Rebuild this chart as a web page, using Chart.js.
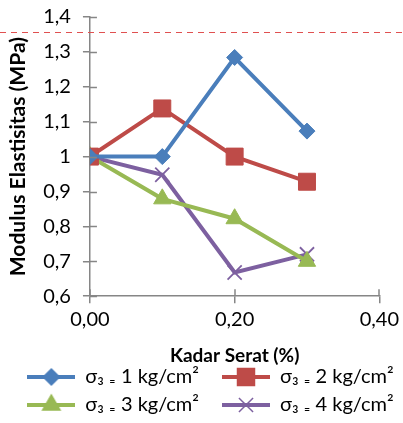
<!DOCTYPE html>
<html>
<head>
<meta charset="utf-8">
<script src="https://cdn.jsdelivr.net/npm/chart.js@4.4.0/dist/chart.umd.min.js"></script>
<style>
  html, body { margin: 0; padding: 0; background: #fff; }
  #frame { width: 403px; height: 423px; position: relative; overflow: hidden; }
  #wrap { width: 403px; height: 432px; position: absolute; left: 0; top: -7px; }
</style>
</head>
<body>
<div id="frame"><div id="wrap"><canvas id="modulusChart"></canvas></div></div>
<script>
const kadarSerat = [0, 0.1, 0.2, 0.3];
const sigma1 = [1.0, 1.0, 1.284, 1.073];
const sigma2 = [1.0, 1.138, 1.0, 0.928];
const sigma3 = [1.0, 0.879, 0.822, 0.70];
const sigma4 = [1.0, 0.948, 0.668, 0.72];
const seriesLabels = ['σ₃ ₌ 1 kg/cm²', 'σ₃ ₌ 2 kg/cm²', 'σ₃ ₌ 3 kg/cm²', 'σ₃ ₌ 4 kg/cm²'];

const fontFace = 'Lato, "Open Sans", sans-serif';
const axisGrey = '#868686';

const toPoints = (vals) => vals.map((v, i) => ({ x: kadarSerat[i], y: v }));

// small picture of line + marker for the legend
const legendIcon = (color, style, r) => {
    const c = document.createElement('canvas');
    c.width = 48; c.height = 24;
    const g = c.getContext('2d');
    g.strokeStyle = color;
    g.lineWidth = 4;
    g.beginPath(); g.moveTo(0, 12); g.lineTo(48, 12); g.stroke();
    g.fillStyle = color;
    g.lineWidth = 1.5;
    g.beginPath();
    Chart.helpers.drawPoint(g, { pointStyle: style, radius: r, borderWidth: 1.5, rotation: 0 }, 24, 12);
    g.fill();
    return c;
};

const makeSet = (label, vals, color, style, r) => ({
    label: label,
    data: toPoints(vals),
    borderColor: color,
    backgroundColor: color,
    borderWidth: 4,
    pointStyle: style,
    pointRadius: r,
    pointHoverRadius: r,
    pointBorderWidth: style === 'crossRot' ? 1.8 : 1,
    pointBorderColor: color,
    tension: 0,
    legendIcon: legendIcon(color, style, r)
});

// red dashed line across the page, inner half of the crossing ticks, legend shift
const extras = {
    id: 'extras',
    afterLayout(chart) {
        chart.legend.left += 7;
        chart.legend.right += 7;
    },
    afterDraw(chart) {
        const ctx = chart.ctx;
        const xs = chart.scales.x, ys = chart.scales.y;
        ctx.save();
        ctx.strokeStyle = axisGrey;
        ctx.lineWidth = 1.5;
        ctx.beginPath();
        ys.ticks.forEach((t) => {
            const py = Math.round(ys.getPixelForValue(t.value)) + 0.5;
            ctx.moveTo(xs.left, py);
            ctx.lineTo(xs.left + 7, py);
        });
        xs.ticks.forEach((t) => {
            const px = Math.round(xs.getPixelForValue(t.value));
            ctx.moveTo(px, ys.bottom);
            ctx.lineTo(px, ys.bottom - 7);
        });
        ctx.stroke();
        ctx.strokeStyle = '#e05050';
        ctx.lineWidth = 1;
        ctx.setLineDash([6, 5]);
        ctx.beginPath();
        ctx.moveTo(0, 39.5);
        ctx.lineTo(chart.width, 39.5);
        ctx.stroke();
        ctx.restore();
    }
};

const ctx = document.getElementById('modulusChart').getContext('2d');
new Chart(ctx, {
    type: 'line',
    data: {
        datasets: [
            makeSet(seriesLabels[0], sigma1, '#4A7EBB', 'rectRot', 8),
            makeSet(seriesLabels[1], sigma2, '#BE4B48', 'rect', 12),
            makeSet(seriesLabels[2], sigma3, '#98B954', 'triangle', 10),
            makeSet(seriesLabels[3], sigma4, '#7D60A0', 'crossRot', 10)
        ]
    },
    options: {
        responsive: true,
        maintainAspectRatio: false,
        animation: false,
        layout: { padding: { top: 0, right: 2, left: 6, bottom: 0 } },
        scales: {
            x: {
                type: 'linear',
                min: 0,
                max: 0.4,
                ticks: {
                    stepSize: 0.2,
                    padding: 4,
                    color: '#000',
                    font: { family: fontFace, size: 20 },
                    callback: (v) => v.toFixed(2).replace('.', ',')
                },
                grid: { drawOnChartArea: false, color: axisGrey, tickLength: 7, lineWidth: 1.5 },
                border: { color: axisGrey, width: 1.5 },
                title: {
                    display: true,
                    text: 'Kadar Serat (%)',
                    color: '#000',
                    font: { family: fontFace, size: 19, weight: 'bold' },
                    padding: { top: 9, bottom: -8 }
                }
            },
            y: {
                min: 0.6,
                max: 1.4,
                ticks: {
                    stepSize: 0.1,
                    autoSkip: false,
                    padding: 12,
                    color: '#000',
                    font: { family: fontFace, size: 20 },
                    callback: (v) => {
                        const r = Math.round(v * 10) / 10;
                        return r === 1 ? '1' : r.toFixed(1).replace('.', ',');
                    }
                },
                grid: { drawOnChartArea: false, color: axisGrey, tickLength: 7, lineWidth: 1.5 },
                border: { color: axisGrey, width: 1.5 },
                title: {
                    display: true,
                    text: 'Modulus Elastisitas (MPa)',
                    color: '#000',
                    font: { family: fontFace, size: 21, weight: 'bold' },
                    padding: { top: 0, bottom: 0 }
                }
            }
        },
        plugins: {
            tooltip: { enabled: false },
            legend: {
                position: 'bottom',
                labels: {
                    usePointStyle: true,
                    pointStyleWidth: 48,
                    boxHeight: 18,
                    padding: 8,
                    color: '#000',
                    font: { family: fontFace, size: 20 },
                    generateLabels: (chart) => chart.data.datasets.map((ds, i) => ({
                        text: i % 2 === 0 ? ds.label + '\u2003' : ds.label,
                        pointStyle: ds.legendIcon,
                        fillStyle: ds.backgroundColor,
                        strokeStyle: ds.borderColor,
                        lineWidth: 0,
                        hidden: false,
                        datasetIndex: i,
                        fontColor: '#000'
                    }))
                }
            }
        }
    },
    plugins: [extras]
});
</script>
</body>
</html>
